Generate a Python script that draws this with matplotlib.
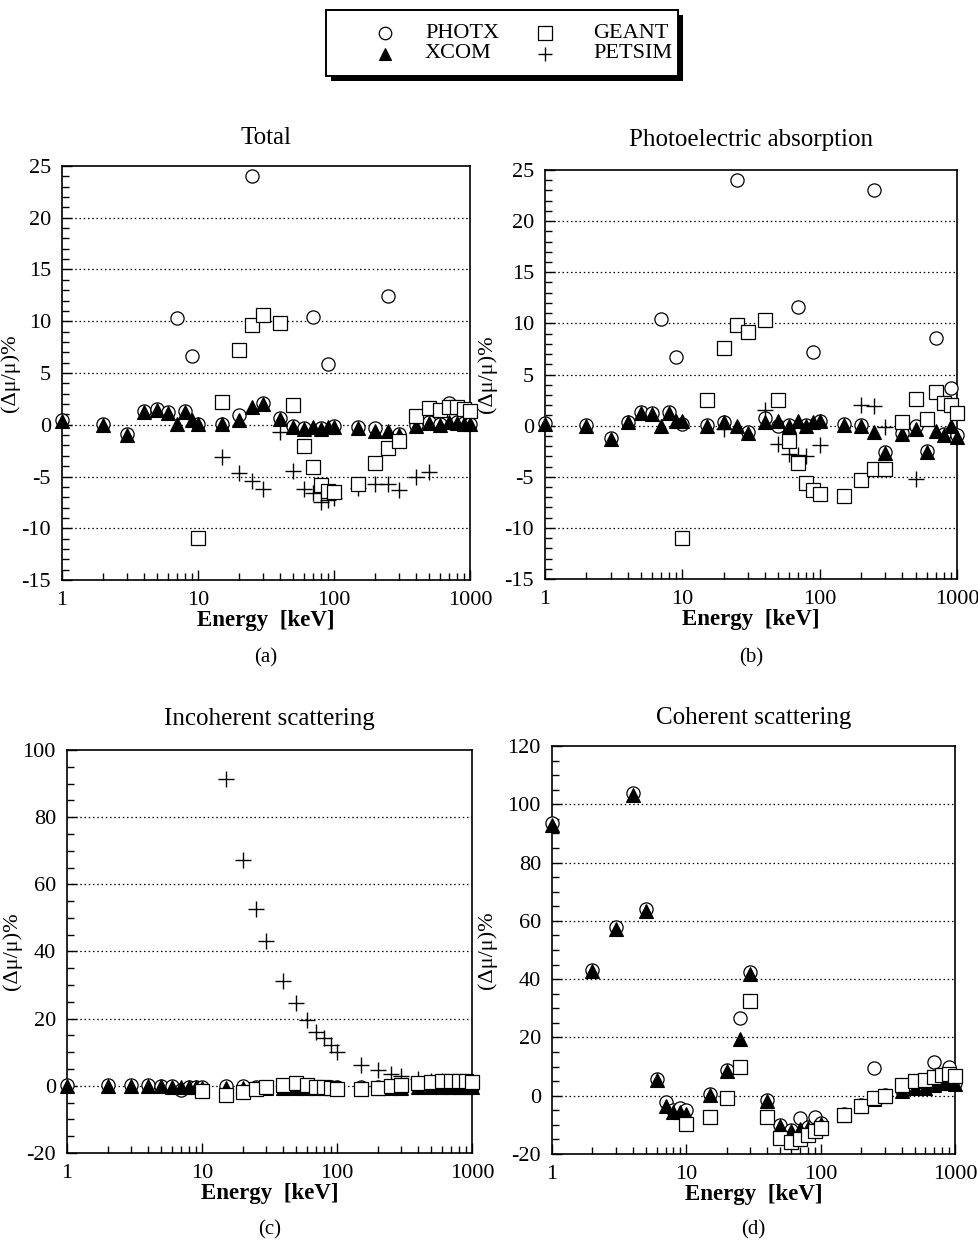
import matplotlib
matplotlib.use("Agg")
import matplotlib.pyplot as plt
from matplotlib.ticker import MultipleLocator, FixedLocator, NullFormatter
from matplotlib.lines import Line2D
from matplotlib.patches import Rectangle

plt.rcParams['font.family'] = ['Liberation Serif', 'DejaVu Serif']
plt.rcParams['axes.unicode_minus'] = False

# ---------------- data ----------------
energy = [1, 2, 3, 4, 5, 6, 7, 8, 9, 10, 15, 20, 25, 30, 40, 50, 60, 70, 80, 90,
          100, 150, 200, 250, 300, 400, 500, 600, 700, 800, 900, 1000]
energy_geant = [10, 15, 20, 25, 30, 40, 50, 60, 70, 80, 90, 100, 150, 200, 250,
                300, 400, 500, 600, 700, 800, 900, 1000]

# (a) Total
xcom_a = [0.4, 0.0, -1.0, 1.2, 1.4, 1.1, 0.1, 1.2, 0.45, 0.05, 0.05, 0.5, 1.7, 2.0,
          0.6, -0.2, -0.4, -0.2, -0.4, -0.2, -0.2, -0.3, -0.6, -0.6, -1.0, -0.1,
          0.2, 0.0, 0.3, 0.2, 0.1, 0.05]
photx_a = [0.45, 0.1, -0.9, 1.3, 1.5, 1.2, 10.3, 1.3, 6.6, 0.1, 0.1, 0.9, 24.0, 2.1,
           0.7, -0.1, -0.3, 10.4, -0.3, 5.9, -0.1, -0.2, -0.3, 12.4, -0.9, 0.0,
           0.3, 0.1, 2.1, 0.3, 0.2, 0.1]
geant_a = [-10.9, 2.2, 7.2, 9.6, 10.6, 9.8, 1.9, -2.1, -4.1, -5.8, -6.4, -6.5, -5.7,
           -3.7, -2.2, -1.6, 0.8, 1.6, 1.4, 1.7, 1.7, 1.5, 1.35]
energy_petsim_a = [15, 20, 25, 30, 40, 50, 60, 70, 80, 90, 100, 150, 200, 250, 300, 400, 500]
petsim_a = [-3.1, -4.7, -5.4, -6.2, -0.7, -4.5, -6.2, -6.6, -7.5, -7.3, -7.1, -6.1,
            -5.7, -5.7, -6.3, -5.0, -4.6]

# (b) Photoelectric absorption
xcom_b = [0.2, 0.0, -1.3, 0.35, 1.2, 1.1, 0.0, 1.2, 0.45, 0.5, 0.0, 0.35, 0.0, -0.7,
          0.35, 0.45, 0.0, 0.5, 0.0, 0.35, 0.45, 0.1, 0.0, -0.6, -2.7, -0.8, -0.3,
          -2.6, -0.5, -0.9, 0.0, -1.1]
photx_b = [0.25, 0.05, -1.2, 0.4, 1.3, 1.2, 10.4, 1.3, 6.7, 0.2, 0.05, 0.4, 24.0, -0.6,
           0.7, 0.0, 0.05, 11.6, 0.05, 7.2, 0.5, 0.15, 0.05, 23.0, -2.6, -0.7, 0.0,
           -2.5, 8.6, -0.8, 3.7, -0.9]
geant_b = [-11.0, 2.5, 7.6, 9.8, 9.2, 10.3, 2.5, -1.5, -3.7, -5.6, -6.3, -6.7, -6.9,
           -5.3, -4.2, -4.2, 0.4, 2.6, 0.6, 3.3, 2.2, 2.0, 1.2]
energy_petsim_b = [20, 40, 50, 60, 70, 80, 100, 200, 250, 300, 500]
petsim_b = [-0.3, 1.5, -1.8, -2.8, -2.9, -3.0, -1.9, 2.0, 1.9, -0.1, -5.2]

# (c) Incoherent scattering
xcom_c = [0.0, 0.0, 0.0, 0.0, -0.1, -0.2, -0.3, -0.4, -0.4, -0.5, -0.5, -0.5, -0.5,
          -0.5, -0.5, -0.5, -0.5, -0.5, -0.5, -0.5, -0.5, -0.5, -0.5, -0.5, -0.5,
          -0.4, -0.4, -0.4, -0.4, -0.4, -0.4, -0.4]
photx_c = [0.1, 0.1, 0.1, 0.1, 0.0, -0.1, -1.2, -0.3, -0.3, -0.3, 0.0, 0.0, -0.4,
           -0.4, -0.4, -0.4, -0.4, -0.4, -0.4, -0.4, -0.4, -0.4, -0.4, -0.4, -0.4,
           -0.3, -0.3, -0.3, -0.3, -0.3, -0.3, -0.3]
geant_c = [-1.4, -2.7, -1.7, -1.0, -0.4, 0.2, 0.8, 0.3, -0.2, -0.4, -0.7, -0.8, -0.8,
           -0.5, 0.0, 0.2, 0.8, 1.0, 1.3, 1.5, 1.3, 1.3, 1.0]
energy_petsim_c = [15, 20, 25, 30, 40, 50, 60, 70, 80, 90, 100, 150, 200, 250, 300, 400, 500, 600]
petsim_c = [91.4, 67.1, 52.6, 43.1, 31.2, 24.6, 19.6, 16.1, 14.2, 12.2, 10.2, 6.2,
            4.6, 3.5, 2.8, 2.0, 1.5, 1.3]

# (d) Coherent scattering
xcom_d = [92.8, 42.7, 57.2, 103.1, 63.4, 5.5, -3.4, -5.5, -5.5, -6.3, 0.2, 8.5, 19.4,
          41.8, -1.7, -10.3, -12.0, -11.4, -11.2, -10.8, -9.7, -6.6, -3.4, -1.1, 0.0,
          1.7, 2.8, 2.8, 3.6, 4.2, 4.2, 4.0]
photx_d = [93.5, 43.2, 57.8, 103.8, 64.2, 5.8, -2.0, -5.0, -4.3, -4.8, 0.6, 8.9, 26.8,
           42.4, -1.4, -9.9, -11.6, -7.7, -10.8, -7.4, -9.3, -6.3, -3.1, 9.5, 0.3,
           2.0, 3.1, 3.1, 11.6, 4.5, 9.7, 4.3]
geant_d = [-9.7, -7.4, -0.9, 10.0, 32.5, -7.2, -14.6, -15.9, -15.0, -13.4, -12.0,
           -11.0, -6.5, -3.4, -0.9, 0.0, 3.6, 5.1, 5.5, 6.5, 7.1, 7.4, 6.8]

titles = ["Total", "Photoelectric absorption", "Incoherent scattering", "Coherent scattering"]
captions = ["(a)", "(b)", "(c)", "(d)"]
series_names = ["PHOTX", "XCOM", "GEANT", "PETSIM"]

# ---------------- figure ----------------
W, H = 979, 1243
fig = plt.figure(figsize=(W / 100, H / 100), dpi=100)

def fx(px):
    return px / W

def fy(py):
    return 1 - py / H

def px_axes(l, t, r, b):
    return fig.add_axes([l / W, 1 - b / H, (r - l) / W, (b - t) / H])

boxes = [(62, 166, 470, 580), (545, 170, 957, 579),
         (67, 750, 472, 1153), (552, 746, 955, 1154)]
ylims = [(-15, 25), (-15, 25), (-20, 100), (-20, 120)]
ymaj = [5, 5, 20, 20]
ymin = [1, 1, 5, 5]
title_pads = [16, 17, 18, 16]
ylabel_x = [20, 497, 22, 497]
caption_y = [658, 658, 1230, 1230]

panels = [
    (photx_a, xcom_a, geant_a, energy_petsim_a, petsim_a),
    (photx_b, xcom_b, geant_b, energy_petsim_b, petsim_b),
    (photx_c, xcom_c, geant_c, energy_petsim_c, petsim_c),
    (photx_d, xcom_d, geant_d, None, None),
]

FS = 16
circ = dict(marker='o', ms=9.5, mfc='white', mec='black', mew=0.9, ls='none')
tri = dict(marker='^', ms=9.5, mfc='black', mec='black', mew=0.8, ls='none')
sq = dict(marker='s', ms=10.5, mfc='white', mec='black', mew=0.9, ls='none')
plus = dict(marker='+', ms=11, mec='black', mew=1.0, ls='none')

for i, (box, (ph, xc, ge, pe_e, pe)) in enumerate(zip(boxes, panels)):
    ax = px_axes(*box)
    ax.set_xscale('log')
    ax.set_xlim(1, 1000)
    ax.set_ylim(*ylims[i])

    ax.plot(energy, ph, zorder=3, clip_on=False, **circ)
    ax.plot(energy, xc, zorder=4, clip_on=False, **tri)
    if pe is not None:
        ax.plot(pe_e, pe, zorder=5, **plus)
    ax.plot(energy_geant, ge, zorder=6, clip_on=False, **sq)

    lo, hi = ylims[i]
    for v in range(lo + ymaj[i], hi, ymaj[i]):
        ax.axhline(v, color='black', lw=0.9, ls=(0, (1.2, 2.2)), zorder=1)

    ax.yaxis.set_major_locator(MultipleLocator(ymaj[i]))
    ax.yaxis.set_minor_locator(MultipleLocator(ymin[i]))
    ax.xaxis.set_major_locator(FixedLocator([1, 10, 100, 1000]))
    ax.set_xticklabels(["1", "10", "100", "1000"])
    ax.xaxis.set_minor_formatter(NullFormatter())
    ax.tick_params(which='both', direction='in', top=False, right=False,
                   labelsize=FS, width=1.0)
    ax.tick_params(which='major', length=7)
    ax.tick_params(which='minor', length=5)
    ax.tick_params(axis='y', pad=8)
    ax.tick_params(axis='x', pad=8)
    for s in ax.spines.values():
        s.set_linewidth(1.2)

    ax.set_title(titles[i], fontsize=18, pad=title_pads[i])
    ax.set_xlabel("Energy  [keV]", fontsize=16.5, fontweight='bold', labelpad=0)
    ax.set_ylabel("(Δμ/μ)%", fontsize=FS)
    l, t, r, b = box
    ax.yaxis.set_label_coords((ylabel_x[i] - l) / (r - l), 0.5)
    fig.text(fx((l + r) / 2), fy(caption_y[i]), captions[i],
             ha='center', va='center', fontsize=15)

# ---------------- legend (drawn as a framed key) ----------------
L_left, L_top, L_right, L_bottom = 326, 10, 678, 76
shadow = Rectangle((fx(L_left + 5), fy(L_bottom + 5)), fx(L_right - L_left),
                   (L_bottom - L_top) / H, transform=fig.transFigure,
                   facecolor='black', edgecolor='black', lw=0)
frame = Rectangle((fx(L_left), fy(L_bottom)), fx(L_right - L_left),
                  (L_bottom - L_top) / H, transform=fig.transFigure,
                  facecolor='white', edgecolor='black', lw=1.4)
fig.add_artist(shadow)
fig.add_artist(frame)
key_styles = [circ, tri, sq, plus]
key_pos = [(385, 425, 33), (385, 425, 54), (545, 593, 33), (545, 593, 54)]
for style, name, (mx, tx, yy) in zip(key_styles, series_names, key_pos):
    st = dict(style)
    st['ms'] = st['ms'] - 0.5
    fig.add_artist(Line2D([fx(mx)], [fy(yy)], transform=fig.transFigure, **st))
    fig.text(fx(tx), fy(yy), name, ha='left', va='center', fontsize=16)

fig.savefig("out.png", dpi=100)
